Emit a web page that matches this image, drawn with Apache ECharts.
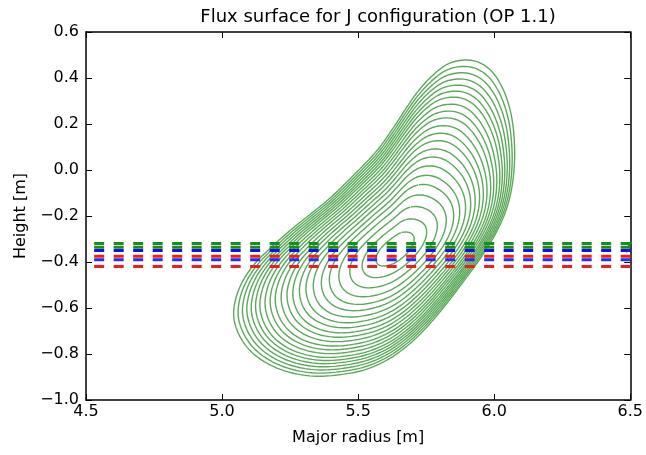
<!DOCTYPE html>
<html>
<head>
<meta charset="utf-8">
<title>Flux surface for J configuration (OP 1.1)</title>
<script src="https://cdn.jsdelivr.net/npm/echarts@6/dist/echarts.min.js"></script>
<style>
  html, body { margin: 0; padding: 0; background: #fff; }
  #chart { width: 646px; height: 455px; }
</style>
</head>
<body>
<div id="chart"></div>
<script>
// Last closed flux surface (R, Z in metres), traced clockwise from the top
const boundaryR = [5.888, 5.939, 5.986, 6.023, 6.048, 6.066, 6.074, 6.074, 6.063, 6.041,
                   6.008, 5.972, 5.932, 5.888, 5.844, 5.797, 5.742, 5.680, 5.607, 5.520,
                   5.425, 5.334, 5.243, 5.163, 5.101, 5.061, 5.043, 5.050, 5.076, 5.119,
                   5.178, 5.243, 5.316, 5.393, 5.484, 5.571, 5.629, 5.677, 5.724, 5.775,
                   5.830];
const boundaryZ = [0.478, 0.470, 0.435, 0.374, 0.304, 0.217, 0.122, 0.022, -0.087, -0.183,
                   -0.270, -0.343, -0.413, -0.483, -0.552, -0.622, -0.696, -0.765, -0.826, -0.870,
                   -0.891, -0.896, -0.878, -0.839, -0.783, -0.713, -0.639, -0.561, -0.483, -0.409,
                   -0.339, -0.270, -0.200, -0.126, -0.022, 0.087, 0.183, 0.270, 0.348, 0.413,
                   0.461];

// Magnetic axis (R, Z)
const magneticAxis = [5.637, -0.345];

// Normalised minor radius of each plotted flux surface
const surfaceLevels = [0.13, 0.22, 0.30, 0.37, 0.43, 0.48, 0.53, 0.575, 0.615, 0.655,
                       0.69, 0.725, 0.76, 0.79, 0.82, 0.85, 0.875, 0.90, 0.925, 0.95,
                       0.975, 1.0];

// Near-axis surfaces are close to tilted ellipses
const coreShape = { semiMajor: 0.78, semiMinor: 0.37, tiltDeg: 38 };

// Horizontal dashed reference heights
const dashedHeights = [-0.32, -0.336, -0.35, -0.375, -0.39, -0.42];
const dashedColors  = ['#1a8c1a', '#1a8c1a', '#1010f0', '#f01c1c', '#2a2af0', '#f01c1c'];
const dashedRange   = [4.53, 6.58];

// Short traces at the outboard edge
const edgeTraceGreen = [[6.49, -0.335], [6.53, -0.283]];
const edgeTraceBlue  = [[6.485, -0.357], [6.53, -0.317]];

const xTicks = { min: 4.5, max: 6.5, step: 0.5 };
const yTicks = { min: -1.0, max: 0.6, step: 0.2 };

// ---- geometry of the nested surfaces ----
const grid = { left: 86, right: 11, top: 32, bottom: 55 };
const plotW = 646 - grid.left - grid.right;
const plotH = 455 - grid.top - grid.bottom;
// pixels per metre in R divided by pixels per metre in Z
const ASPECT = (plotW / (xTicks.max - xTicks.min)) / (plotH / (yTicks.max - yTicks.min));

const [R0, Z0] = magneticAxis;
const tilt = coreShape.tiltDeg * Math.PI / 180;

// boundary vertices in an isotropic frame centred on the axis
const verts = boundaryR.map((r, i) => [(r - R0) * ASPECT, boundaryZ[i] - Z0]);

// closed centripetal Catmull-Rom curve through the boundary vertices
function catmullRom(p0, p1, p2, p3, t) {
  const d = (a, b) => Math.pow(Math.hypot(b[0] - a[0], b[1] - a[1]), 0.5) || 1e-6;
  const t0 = 0, t1 = t0 + d(p0, p1), t2 = t1 + d(p1, p2), t3 = t2 + d(p2, p3);
  const tt = t1 + (t2 - t1) * t;
  const lerp = (a, b, ta, tb) => [
    ((tb - tt) * a[0] + (tt - ta) * b[0]) / (tb - ta),
    ((tb - tt) * a[1] + (tt - ta) * b[1]) / (tb - ta)
  ];
  const A1 = lerp(p0, p1, t0, t1), A2 = lerp(p1, p2, t1, t2), A3 = lerp(p2, p3, t2, t3);
  const B1 = lerp(A1, A2, t0, t2), B2 = lerp(A2, A3, t1, t3);
  return lerp(B1, B2, t1, t2);
}
const SUB = 8;
const outline = [];
const n = verts.length;
for (let i = 0; i < n; i++) {
  const p0 = verts[(i - 1 + n) % n], p1 = verts[i], p2 = verts[(i + 1) % n], p3 = verts[(i + 2) % n];
  for (let s = 0; s < SUB; s++) outline.push(catmullRom(p0, p1, p2, p3, s / SUB));
}

function coreRadius(th) {
  const a = coreShape.semiMajor, b = coreShape.semiMinor, t = th - tilt;
  return a * b / Math.sqrt(Math.pow(b * Math.cos(t), 2) + Math.pow(a * Math.sin(t), 2));
}
function surface(rho) {
  const w = rho;
  const pts = outline.map(([u, v]) => {
    const th = Math.atan2(v, u), rb = Math.hypot(u, v);
    const r = rho * ((1 - w) * coreRadius(th) + w * rb);
    return [R0 + r * Math.cos(th) / ASPECT, Z0 + r * Math.sin(th)];
  });
  pts.push(pts[0]);
  return pts;
}

const series = [];
surfaceLevels.forEach(rho => {
  series.push({
    type: 'line', data: surface(rho), showSymbol: false, symbol: 'none', silent: true,
    lineStyle: { color: '#4aa04a', width: 1.4, opacity: 0.9 }
  });
});
dashedHeights.forEach((z, i) => {
  series.push({
    type: 'line', data: [[dashedRange[0], z], [dashedRange[1], z]],
    showSymbol: false, symbol: 'none', clip: false, silent: true, z: 3,
    lineStyle: { color: dashedColors[i], width: 3, type: [10, 9.5], dashOffset: 0 }
  });
});
[[edgeTraceGreen, '#1a8c1a'], [edgeTraceBlue, '#1f1fe0']].forEach(([d, c]) => {
  series.push({
    type: 'line', data: d, showSymbol: false, symbol: 'none', clip: false, silent: true, z: 3,
    lineStyle: { color: c, width: 1.5 }
  });
});

const font = 'DejaVu Sans';
const fmt = v => v.toFixed(1).replace('-', '\u2212');
const frameLine = { show: true, onZero: false, lineStyle: { color: '#000', width: 1.5 } };
const innerTick = { show: true, inside: true, length: 6, lineStyle: { color: '#000', width: 1 } };

const chart = echarts.init(document.getElementById('chart'), null, { renderer: 'canvas' });
chart.setOption({
  animation: false,
  backgroundColor: '#fff',
  title: {
    text: 'Flux surface for J configuration (OP 1.1)',
    left: 373, top: 3, textAlign: 'center',
    textStyle: { fontFamily: font, fontSize: 18, fontWeight: 'normal', color: '#000' }
  },
  grid: grid,
  xAxis: [{
    type: 'value', min: xTicks.min, max: xTicks.max, interval: xTicks.step,
    name: 'Major radius [m]', nameLocation: 'middle', nameGap: 30,
    nameTextStyle: { fontFamily: font, fontSize: 16, color: '#000' },
    axisLine: frameLine, axisTick: innerTick, splitLine: { show: false },
    axisLabel: { formatter: fmt, fontFamily: font, fontSize: 16, color: '#000', margin: 4 }
  }, {
    type: 'value', position: 'top', min: xTicks.min, max: xTicks.max, interval: xTicks.step,
    axisLine: frameLine, axisTick: innerTick, splitLine: { show: false },
    axisLabel: { show: false }
  }],
  yAxis: [{
    type: 'value', min: yTicks.min, max: yTicks.max, interval: yTicks.step,
    name: 'Height [m]', nameLocation: 'middle', nameGap: 53, nameRotate: 90,
    nameTextStyle: { fontFamily: font, fontSize: 16, color: '#000' },
    axisLine: frameLine, axisTick: innerTick, splitLine: { show: false },
    axisLabel: { formatter: fmt, fontFamily: font, fontSize: 16, color: '#000', margin: 7 }
  }, {
    type: 'value', position: 'right', min: yTicks.min, max: yTicks.max, interval: yTicks.step,
    axisLine: frameLine, axisTick: innerTick, splitLine: { show: false },
    axisLabel: { show: false }
  }],
  series: series
});
</script>
</body>
</html>
